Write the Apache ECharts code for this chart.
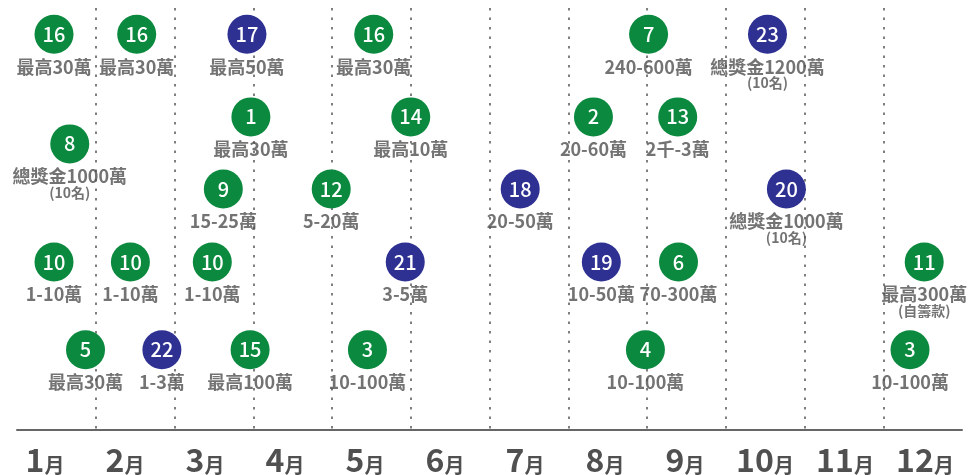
<!DOCTYPE html>
<html>
<head>
<meta charset="utf-8">
<script src="https://cdn.jsdelivr.net/npm/echarts@6/dist/echarts.min.js"></script>
<style>
  html, body { margin: 0; padding: 0; background: #fff; }
  #main { width: 971px; height: 475px; }
</style>
</head>
<body>
<div id="main"></div>
<script>
// 月份
var months = ['1', '2', '3', '4', '5', '6', '7', '8', '9', '10', '11', '12'];
// 圓圈編號
var nums = [16, 16, 17, 16, 1, 14, 8, 9, 12, 7, 23, 2, 13, 18, 20,
            10, 10, 10, 21, 19, 6, 11, 5, 22, 15, 3, 4, 3];
// 月份位置 (0~12, 第 n 月落在 n-1 ~ n 之間)
var monthPos = [0.47, 1.52, 2.92, 4.53, 2.97, 5.0, 0.67, 2.62, 3.99, 8.02, 9.53, 7.32, 8.39, 6.39, 9.77,
                0.47, 1.44, 2.48, 4.93, 7.42, 8.4, 11.52, 0.87, 1.84, 2.96, 4.45, 7.98, 11.34];
// 垂直位置
var lane = [93.8, 93.8, 93.8, 93.8, 74.2, 74.2, 67.8, 57.1, 57.1, 93.8, 93.8, 74.2, 74.2, 57.1, 57.1,
            39.8, 39.8, 39.8, 39.8, 39.8, 39.8, 39.8, 19.0, 19.0, 19.0, 19.0, 19.0, 19.0];
// 獎金
var prize = ['最高30萬', '最高30萬', '最高50萬', '最高30萬', '最高30萬', '最高10萬', '總獎金1000萬', '15-25萬', '5-20萬',
             '240-600萬', '總獎金1200萬', '20-60萬', '2千-3萬', '20-50萬', '總獎金1000萬',
             '1-10萬', '1-10萬', '1-10萬', '3-5萬', '10-50萬', '70-300萬', '最高300萬',
             '最高30萬', '1-3萬', '最高100萬', '10-100萬', '10-100萬', '10-100萬'];
var note = ['', '', '', '', '', '', '(10名)', '', '', '', '(10名)', '', '', '', '(10名)',
            '', '', '', '', '', '', '(自籌款)', '', '', '', '', '', ''];
// 1 = 藍色
var navy = [0, 0, 1, 0, 0, 0, 0, 0, 0, 0, 1, 0, 0, 1, 1,
            0, 0, 0, 1, 1, 0, 0, 0, 1, 0, 0, 0, 0];

var GREEN = '#0b8a3f', BLUE = '#2e3192', TEXT = '#505050';
var font = '"Noto Sans CJK TC", "Noto Sans", sans-serif';

var circles = nums.map(function (n, i) {
  return {
    value: [monthPos[i], lane[i]],
    name: String(n),
    itemStyle: { color: navy[i] ? BLUE : GREEN, opacity: 1 }
  };
});
var texts = prize.map(function (p, i) {
  return {
    value: [monthPos[i], lane[i]],
    name: note[i] ? '{a|' + p + '}\n{b|' + note[i] + '}' : '{a|' + p + '}'
  };
});

var chart = echarts.init(document.getElementById('main'));
chart.setOption({
  animation: false,
  grid: [
    { left: 17, right: 9, top: 8, bottom: 45 },
    { left: 5, right: 6, top: 429, height: 1 }
  ],
  xAxis: [{
    gridIndex: 0, type: 'value', min: 0, max: 12, interval: 1,
    axisLine: { show: true, onZero: false, lineStyle: { color: '#666', width: 2 } },
    axisTick: { show: false },
    axisLabel: { show: false },
    splitLine: {
      show: true, showMinLine: false, showMaxLine: false,
      lineStyle: { color: '#555', width: 1.5, type: [2.5, 7] }
    }
  }, {
    gridIndex: 1, type: 'category', data: months,
    axisLine: { show: false }, axisTick: { show: false },
    axisLabel: {
      interval: 0,
      margin: 15,
      formatter: function (v) { return '{n|' + v + '}{m|月}'; },
      rich: {
        n: { fontSize: 32, fontWeight: 'bold', color: TEXT, fontFamily: font, verticalAlign: 'bottom' },
        m: { fontSize: 20, fontWeight: 'bold', color: TEXT, fontFamily: font, verticalAlign: 'bottom', padding: [0, 0, 1, 0] }
      }
    }
  }],
  yAxis: [
    { gridIndex: 0, type: 'value', min: 0, max: 100, show: false, splitLine: { show: false } },
    { gridIndex: 1, type: 'value', show: false, splitLine: { show: false } }
  ],
  series: [{
    type: 'scatter', xAxisIndex: 0, yAxisIndex: 0,
    symbolSize: 39,
    data: texts,
    itemStyle: { color: 'rgba(0,0,0,0)' },
    label: {
      show: true, position: 'bottom', distance: 4,
      formatter: '{b}',
      rich: {
        a: { fontSize: 18, fontWeight: 'bold', color: TEXT, fontFamily: font, lineHeight: 18 },
        b: { fontSize: 14, fontWeight: 'bold', color: TEXT, fontFamily: font, lineHeight: 15 }
      }
    }
  }, {
    type: 'scatter', xAxisIndex: 0, yAxisIndex: 0,
    symbolSize: 39,
    data: circles,
    label: {
      show: true, position: 'inside', formatter: '{b}',
      color: '#fff', fontSize: 20, fontWeight: 500, fontFamily: font
    }
  }]
});
</script>
</body>
</html>
